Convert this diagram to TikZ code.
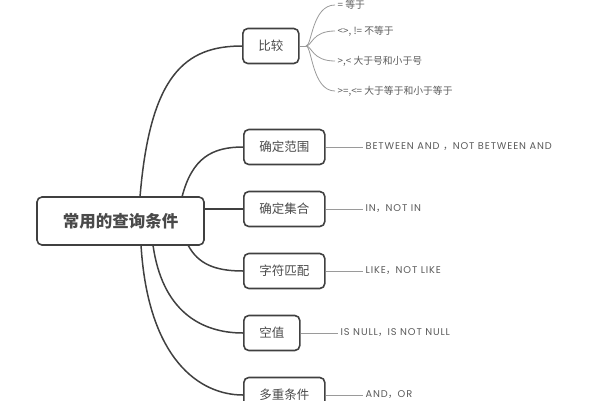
\documentclass[tikz,border=0pt]{standalone}
\usepackage{fontspec}
\setmainfont{Noto Sans CJK SC}
\newfontfamily\lat[LetterSpace=9]{Poppins}
\definecolor{boxc}{HTML}{404040}
\definecolor{txtc}{HTML}{4A4A4A}
\definecolor{leafl}{HTML}{9A9A9A}
\definecolor{leaft}{HTML}{5A5A5A}
\tikzset{
  rootbox/.style={draw=boxc, line width=1.6pt, rounded corners=5pt, minimum width=167pt, minimum height=48pt, text=txtc, font=\fontsize{16.5}{18}\selectfont\bfseries, inner sep=0pt},
  kidbox/.style={draw=boxc, line width=1.6pt, rounded corners=5pt, minimum height=35pt, text=txtc, font=\fontsize{12.5}{14}\selectfont, inner sep=0pt, anchor=west},
  leaf/.style={text=leaft, font=\fontsize{9.8}{11}\selectfont, anchor=west, inner sep=2.5pt},
  main/.style={draw=boxc, line width=1.5pt},
  twig/.style={draw=leafl, line width=0.8pt}
}
\begin{document}
\begin{tikzpicture}[x=1pt,y=-1pt]
\useasboundingbox (0,0) rectangle (600,400);
\node[rootbox] (root) at (120.5,221) {常用的查询条件};
\node[kidbox, minimum width=56pt] (bj) at (242,46) {比较};
\node[kidbox, minimum width=81pt] (fw) at (243,147) {确定范围};
\node[kidbox, minimum width=81pt] (jh) at (243,209) {确定集合};
\node[kidbox, minimum width=81pt] (pp) at (243,271) {字符匹配};
\node[kidbox, minimum width=56pt] (kz) at (243,333) {空值};
\node[kidbox, minimum width=81pt] (dc) at (243,395) {多重条件};
% main connectors
\draw[main] (140,197) .. controls (150,75) and (185,46) .. (bj.west);
\draw[main] (182,197) .. controls (192,158) and (212,147) .. (fw.west);
\draw[main] (root.east |- jh.west) -- (jh.west);
\draw[main] (188,245) .. controls (198,264) and (215,271) .. (pp.west);
\draw[main] (153,245) .. controls (162,310) and (200,333) .. (kz.west);
\draw[main] (141,245) .. controls (148,360) and (200,395) .. (dc.west);
% leaves of bj
\coordinate (fork) at (306,46);
\node[leaf] (l1) at (335,5) {= 等于};
\node[leaf] (l2) at (335,31) {<>, != 不等于};
\node[leaf] (l3) at (335,61) {>,< 大于号和小于号};
\node[leaf] (l4) at (335,91) {>=,<= 大于等于和小于等于};
\draw[twig] (bj.east) -- (fork);
\foreach \l in {l1,l2,l3,l4}{
  \draw[twig] (fork) .. controls (312,46) and (312,0|-\l.west) .. (\l.west);
}
% other leaves
\node[leaf] (l5) at (363,147) {{\lat BETWEEN AND }，{\lat NOT BETWEEN AND}};
\node[leaf] (l6) at (363,209) {{\lat IN}，{\lat NOT IN}};
\node[leaf] (l7) at (363,271) {{\lat LIKE}，{\lat NOT LIKE}};
\node[leaf] (l8) at (338,333) {{\lat IS NULL}，{\lat IS NOT NULL}};
\node[leaf] (l9) at (363,395) {{\lat AND}，{\lat OR}};
\draw[twig] (fw.east) -- (l5.west);
\draw[twig] (jh.east) -- (l6.west);
\draw[twig] (pp.east) -- (l7.west);
\draw[twig] (kz.east) -- (l8.west);
\draw[twig] (dc.east) -- (l9.west);
\end{tikzpicture}
\end{document}
